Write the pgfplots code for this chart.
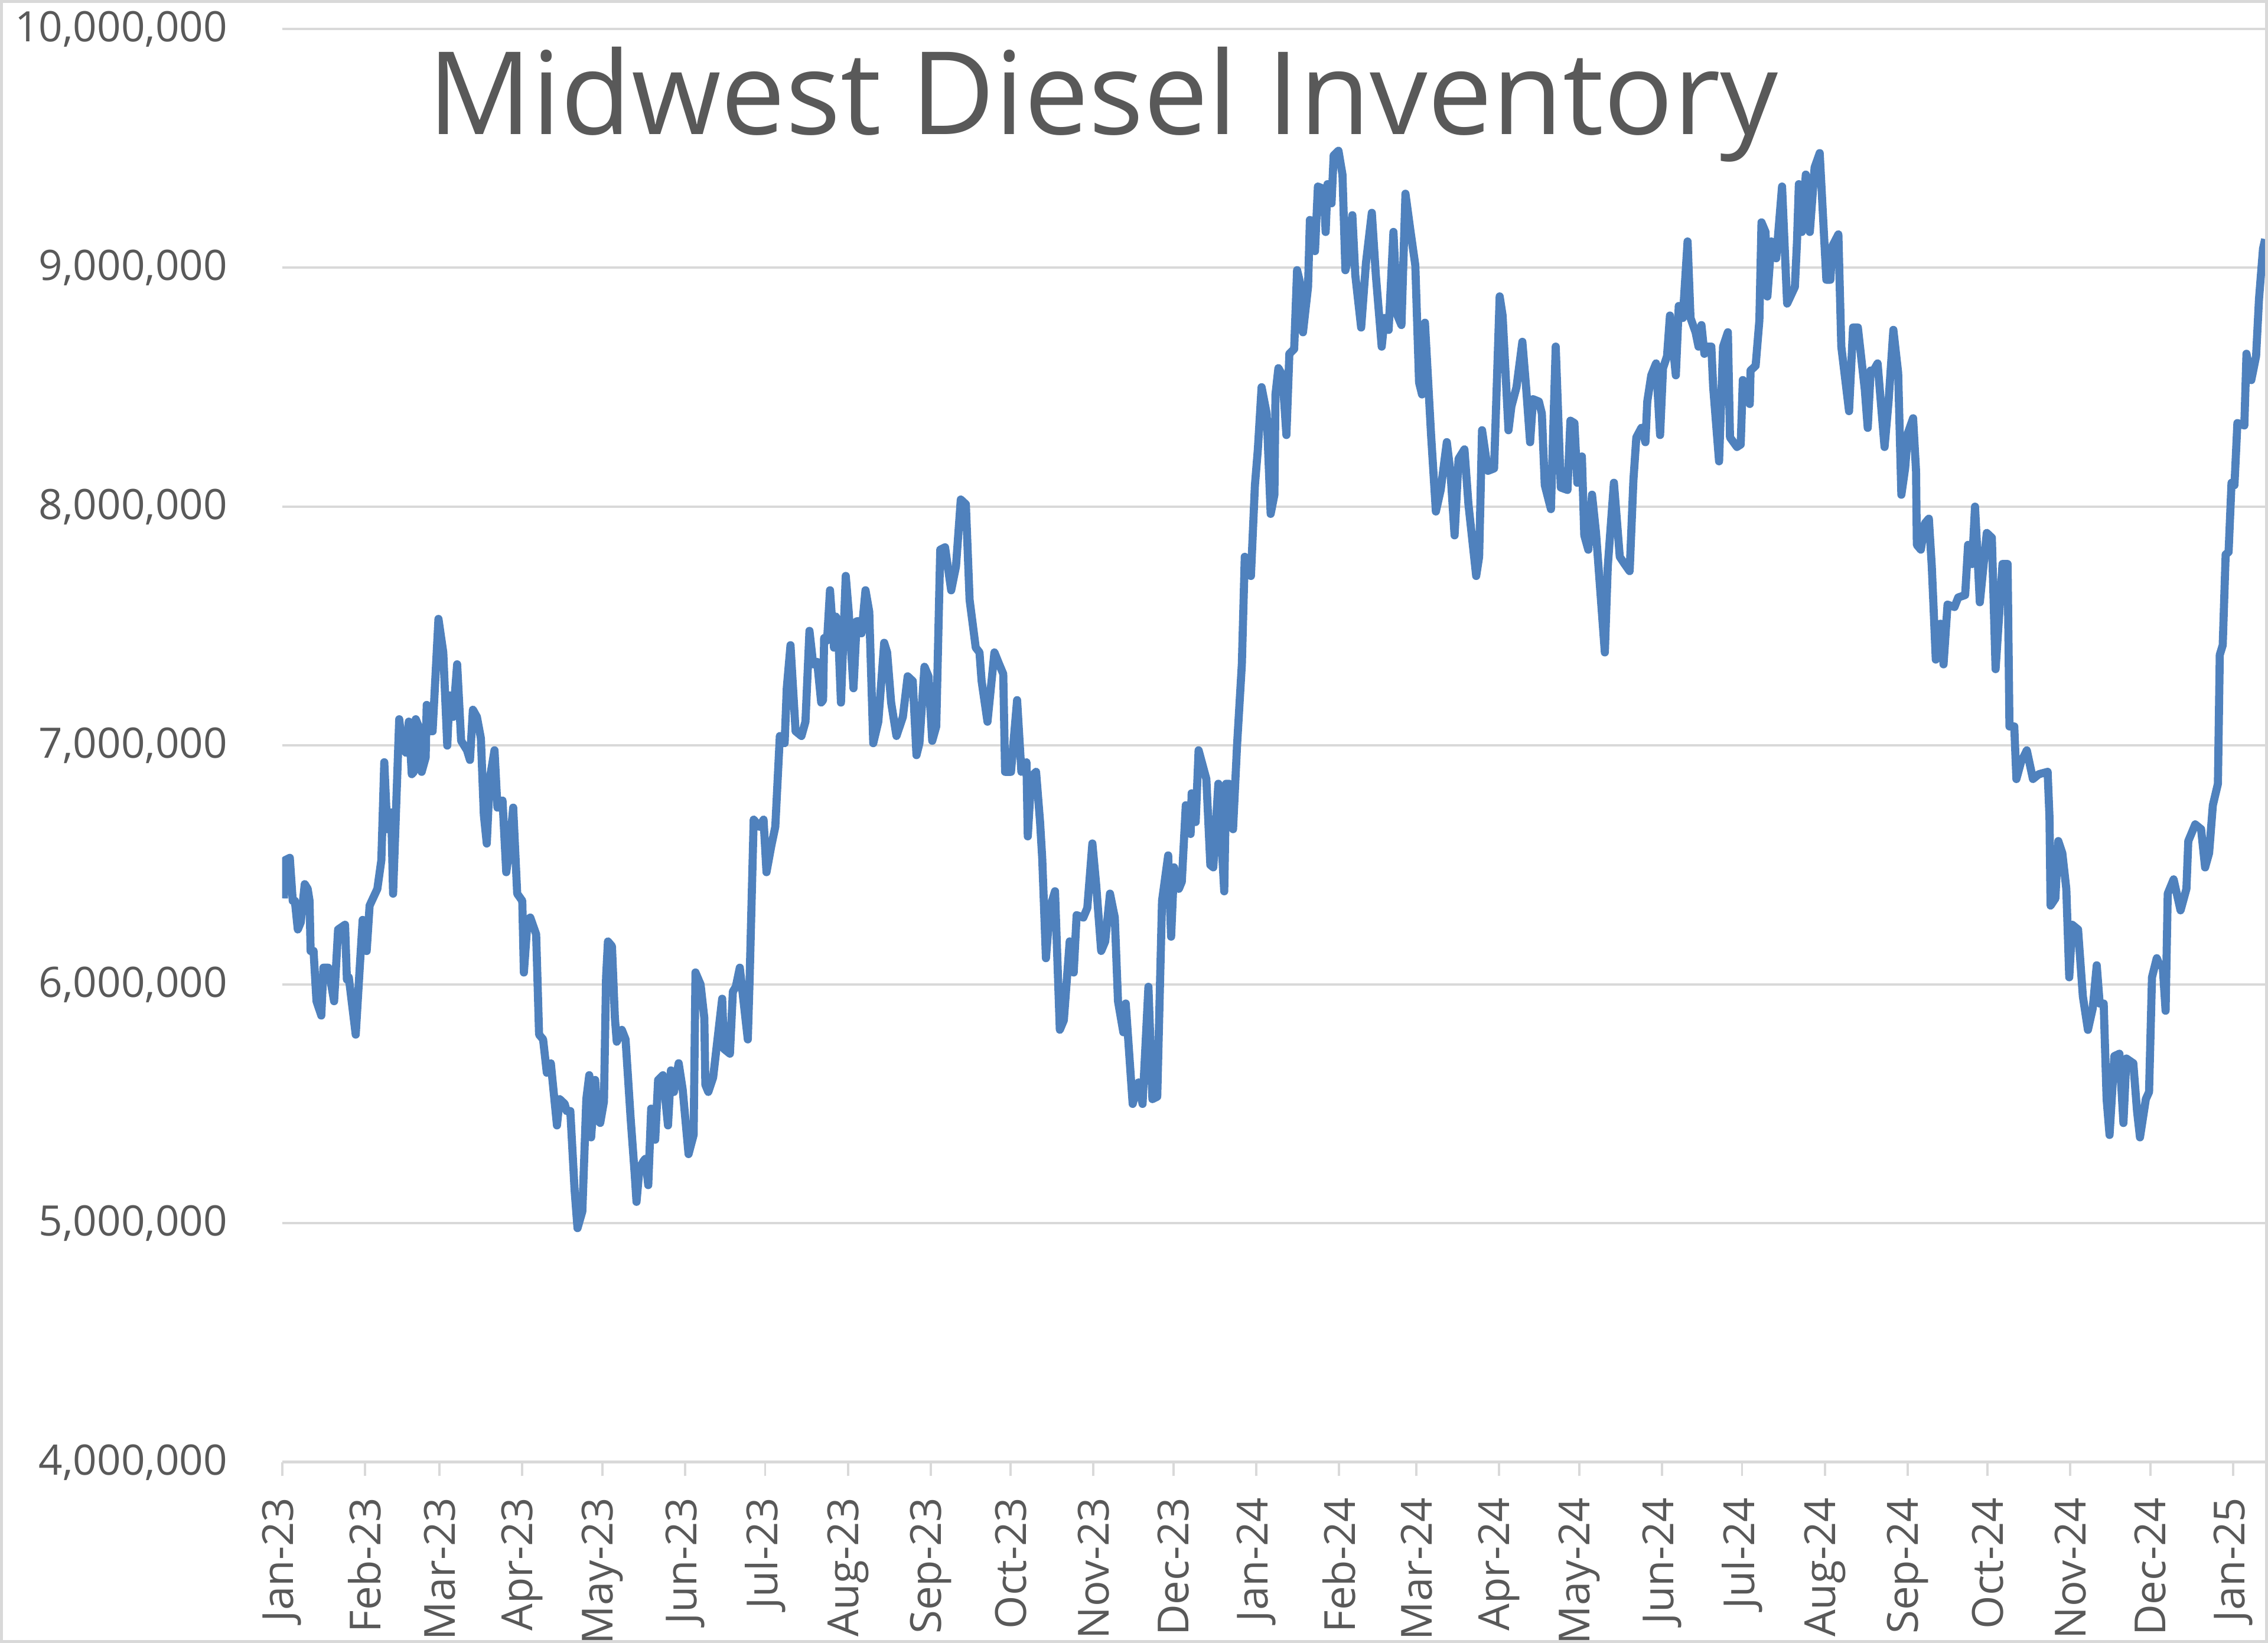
\documentclass[border=0pt]{standalone}
\usepackage{fontspec}
\setmainfont{Open Sans}[Numbers={Lining,Monospaced}]
\usepackage{pgfplots}
\pgfplotsset{compat=1.18}
\definecolor{linec}{RGB}{79,129,189}
\definecolor{txt}{RGB}{89,89,89}
\definecolor{gridc}{RGB}{217,217,217}
\begin{document}
\begin{tikzpicture}
\begin{axis}[
  scale only axis, width=342.75pt, height=247.75pt,
  xmin=0, xmax=743, ymin=4, ymax=10,
  ytick={4,5,6,7,8,9,10},
  yticklabel={\pgfmathprintnumber[assume math mode=true,fixed,precision=0]{\tick},000,000},
  xtick={0,31,59,90,120,151,181,212,243,273,304,334,365,396,425,456,486,517,547,578,609,639,670,700,731},
  xticklabels={Jan-23,Feb-23,Mar-23,Apr-23,May-23,Jun-23,Jul-23,Aug-23,Sep-23,Oct-23,Nov-23,Dec-23,Jan-24,Feb-24,Mar-24,Apr-24,May-24,Jun-24,Jul-24,Aug-24,Sep-24,Oct-24,Nov-24,Dec-24,Jan-25},
  axis x line*=bottom, axis y line*=left,
  x axis line style={draw=gridc, line width=0.5pt, -},
  y axis line style={draw=none},
  ymajorgrids, grid style={draw=gridc, line width=0.4pt},
  xtick align=outside, major tick length=2.4pt,
  xtick style={draw=gridc, line width=0.4pt},
  ytick style={draw=none},
  tick label style={text=txt},
  xticklabel style={font=\fontsize{7.4}{8}\selectfont, yshift=-3.5pt, rotate=90, anchor=east, inner sep=0pt},
  yticklabel style={font=\fontsize{7.25}{8}\selectfont, anchor=east, inner sep=0pt, xshift=-9.25pt},
]
\node[anchor=base, font=\fontsize{19.9}{24}\selectfont, text=txt, inner sep=0pt] at (rel axis cs:0.414,1) [yshift=-18.25pt] {Midwest Diesel Inventory};
\addplot[color=linec, line width=1.4pt, line join=round, mark=none] coordinates {
(0.7,6.36)(1.1,6.52)(2.9,6.53)(4.0,6.35)(4.8,6.35)(5.9,6.23)(7.0,6.26)(8.5,6.42)(9.6,6.40)(10.3,6.35)
(10.7,6.14)(11.8,6.14)(12.9,5.93)(14.7,5.87)(15.5,6.07)(17.3,6.07)(19.5,5.93)(21.0,6.23)(23.6,6.25)(24.3,6.02)
(25.0,6.03)(27.6,5.79)(29.1,6.07)(30.2,6.27)(31.7,6.14)(32.8,6.33)(35.7,6.40)(37.2,6.52)(38.3,6.93)(39.4,6.65)
(40.9,6.72)(41.6,6.38)(43.9,7.11)(45.0,7.00)(46.4,6.97)(47.5,7.10)(48.6,6.88)(49.4,6.89)(50.1,7.11)(51.2,7.08)
(52.3,6.89)(53.8,6.95)(54.2,7.17)(55.6,7.06)(56.4,7.06)(58.6,7.53)(60.4,7.39)(61.9,7.00)(62.7,7.21)(64.1,7.12)
(65.6,7.34)(67.1,7.02)(69.3,6.98)(70.4,6.94)(71.5,7.15)(73.0,7.12)(74.5,7.03)(75.6,6.71)(76.7,6.59)(77.8,6.86)
(79.6,6.98)(80.7,6.74)(82.6,6.77)(84.0,6.47)(85.1,6.56)(86.6,6.74)(88.1,6.38)(90.0,6.35)(90.6,6.05)(92.0,6.27)
(93.0,6.28)(95.2,6.21)(96.3,5.79)(97.8,5.77)(99.2,5.63)(100.7,5.67)(103.0,5.41)(104.0,5.52)(105.9,5.50)(106.6,5.47)
(108.0,5.47)(109.6,5.14)(110.7,4.98)(112.5,5.05)(114.0,5.52)(115.1,5.62)(115.8,5.36)(117.3,5.60)(118.4,5.43)(119.2,5.42)
(120.6,5.51)(121.4,6.03)(122.1,6.18)(123.6,6.16)(124.7,5.86)(125.4,5.76)(127.3,5.81)(128.7,5.77)(130.6,5.44)(132.1,5.21)
(132.8,5.09)(133.9,5.23)(135.4,5.26)(136.1,5.27)(137.2,5.16)(138.3,5.48)(139.8,5.35)(140.9,5.60)(142.7,5.62)(144.6,5.41)
(145.7,5.64)(146.8,5.55)(148.6,5.67)(150.1,5.56)(152.3,5.29)(154.2,5.37)(154.9,6.05)(156.8,6.00)(158.2,5.86)(158.6,5.58)
(159.7,5.55)(161.5,5.61)(164.9,5.94)(165.6,5.73)(167.8,5.71)(168.9,5.97)(170.0,5.99)(171.5,6.07)(173.0,5.92)(174.5,5.77)
(175.2,6.03)(176.7,6.69)(178.9,6.66)(180.4,6.69)(181.5,6.47)(183.3,6.58)(184.8,6.66)(186.5,7.04)(188.3,7.01)(189.1,7.24)
(190.5,7.42)(192.4,7.06)(194.6,7.04)(196.1,7.10)(197.6,7.48)(199.0,7.34)(200.5,7.35)(202.0,7.18)(202.7,7.19)(203.1,7.45)
(204.2,7.44)(205.3,7.65)(206.8,7.41)(207.5,7.54)(208.2,7.52)(209.4,7.18)(211.2,7.71)(212.3,7.56)(214.1,7.24)(215.3,7.52)
(216.4,7.52)(217.1,7.47)(218.6,7.65)(220.0,7.56)(221.5,7.01)(223.4,7.10)(225.6,7.43)(226.7,7.39)(228.2,7.18)(230.2,7.04)
(232.6,7.12)(234.4,7.29)(236.3,7.27)(237.7,6.96)(238.8,7.01)(240.7,7.33)(242.2,7.29)(243.6,7.02)(245.1,7.08)(246.6,7.82)
(248.4,7.83)(250.7,7.65)(252.5,7.75)(254.3,8.03)(256.2,8.01)(257.6,7.61)(259.9,7.41)(261.3,7.39)(262.1,7.27)(264.3,7.10)
(266.9,7.39)(268.7,7.34)(270.2,7.30)(270.9,6.89)(273.1,6.89)(275.4,7.19)(277.0,6.89)(278.9,6.93)(279.4,6.62)(280.7,6.87)
(282.5,6.89)(284.0,6.68)(284.8,6.53)(286.2,6.11)(287.7,6.32)(289.6,6.39)(291.4,5.81)(292.9,5.85)(295.1,6.18)(296.6,6.05)
(297.7,6.29)(300.2,6.28)(301.7,6.32)(303.6,6.59)(305.0,6.42)(306.9,6.14)(308.4,6.18)(310.2,6.38)(312.0,6.28)(313.2,5.93)
(315.2,5.80)(316.1,5.92)(318.7,5.50)(320.9,5.59)(322.4,5.50)(324.6,5.99)(326.1,5.52)(327.9,5.53)(329.7,6.35)(332.0,6.54)
(333.1,6.20)(334.2,6.49)(336.0,6.40)(337.1,6.43)(338.6,6.75)(340.4,6.63)(340.8,6.80)(342.3,6.68)(343.4,6.98)(346.3,6.86)
(347.8,6.50)(348.9,6.49)(350.8,6.84)(353.0,6.39)(353.7,6.84)(354.8,6.84)(356.3,6.65)(357.8,7.00)(359.6,7.34)(360.7,7.79)
(363.0,7.71)(364.5,8.09)(365.6,8.24)(367.0,8.50)(368.9,8.39)(370.4,7.97)(371.8,8.05)(372.2,8.47)(373.3,8.58)(374.8,8.55)
(376.3,8.30)(377.4,8.64)(379.2,8.66)(380.3,8.99)(381.8,8.92)(382.5,8.73)(384.4,8.92)(385.1,9.20)(387.0,9.07)(388.1,9.34)
(390.3,9.33)(391.0,9.15)(391.7,9.35)(393.2,9.27)(394.0,9.47)(395.8,9.49)(397.3,9.39)(398.4,8.99)(399.5,9.04)(401.0,9.22)
(402.1,8.97)(404.3,8.75)(406.1,9.02)(408.3,9.23)(409.8,8.97)(412.0,8.67)(413.1,8.79)(414.6,8.74)(416.4,9.15)(417.9,8.80)
(419.4,8.76)(420.9,9.31)(422.7,9.16)(424.6,9.01)(426.0,8.52)(427.1,8.47)(428.2,8.77)(430.5,8.30)(432.3,7.98)(434.1,8.07)
(436.4,8.27)(437.8,8.14)(439.3,7.88)(440.8,8.20)(443.0,8.24)(444.5,8.01)(447.4,7.71)(448.5,7.79)(449.6,8.32)(451.8,8.15)
(454.1,8.16)(456.2,8.88)(457.3,8.80)(459.5,8.32)(460.6,8.42)(462.5,8.50)(464.7,8.69)(466.1,8.50)(467.6,8.27)(468.7,8.45)
(470.9,8.44)(472.0,8.39)(473.1,8.09)(475.4,7.99)(477.2,8.67)(479.1,8.08)(481.6,8.07)(482.7,8.36)(484.2,8.35)(485.3,8.10)
(487.0,8.21)(487.9,7.88)(489.4,7.82)(490.8,8.05)(492.3,7.89)(495.6,7.39)(496.7,7.75)(499.0,8.10)(501.2,7.79)(503.0,7.76)
(504.9,7.73)(506.3,8.11)(507.4,8.29)(509.3,8.33)(510.8,8.27)(511.5,8.44)(513.0,8.55)(514.8,8.60)(516.3,8.30)(517.4,8.58)
(518.9,8.63)(520.0,8.80)(522.2,8.55)(523.3,8.84)(524.8,8.79)(526.6,9.11)(527.7,8.79)(529.6,8.73)(530.7,8.67)(531.8,8.76)
(532.9,8.64)(533.6,8.67)(535.5,8.67)(536.2,8.50)(538.4,8.19)(539.9,8.67)(541.7,8.73)(542.5,8.29)(545.1,8.25)(546.5,8.26)
(547.3,8.53)(549.9,8.43)(550.2,8.57)(552.1,8.59)(553.5,8.78)(554.3,9.19)(555.8,9.15)(556.5,8.88)(558.0,9.11)(559.8,9.04)
(562.0,9.34)(563.9,8.85)(566.8,8.92)(567.6,9.11)(568.3,9.35)(569.4,9.15)(570.9,9.39)(572.4,9.15)(574.2,9.42)(576.1,9.48)
(578.6,8.95)(580.1,8.95)(580.8,9.09)(583.1,9.14)(584.2,8.67)(587.1,8.40)(588.6,8.75)(590.4,8.75)(593.0,8.49)(594.1,8.33)
(595.2,8.57)(596.3,8.57)(597.8,8.60)(600.4,8.25)(601.9,8.44)(603.7,8.74)(605.5,8.56)(606.7,8.05)(608.1,8.16)(609.2,8.31)
(611.1,8.37)(612.2,8.15)(612.5,7.84)(614.0,7.82)(615.5,7.93)(617.0,7.95)(618.1,7.75)(619.6,7.36)(621.4,7.51)(622.5,7.34)
(624.0,7.59)(626.6,7.58)(628.0,7.62)(630.6,7.63)(631.7,7.84)(633.2,7.76)(634.3,8.00)(636.1,7.60)(638.7,7.89)(640.6,7.87)
(642.0,7.32)(644.6,7.76)(646.5,7.76)(647.2,7.08)(649.0,7.08)(649.8,6.86)(651.5,6.93)(653.7,6.98)(656.0,6.86)(658.2,6.88)
(661.5,6.89)(662.2,6.70)(662.6,6.33)(664.4,6.36)(665.5,6.60)(667.0,6.55)(668.5,6.40)(669.6,6.03)(670.7,6.25)(672.9,6.23)
(674.7,5.95)(676.6,5.81)(678.4,5.90)(679.9,6.08)(681.0,5.92)(682.5,5.92)(683.6,5.52)(684.7,5.37)(686.5,5.70)(688.4,5.71)
(689.9,5.42)(691.0,5.69)(693.6,5.67)(695.0,5.47)(696.1,5.36)(698.3,5.52)(699.5,5.55)(700.6,6.03)(702.4,6.11)(703.5,6.08)
(704.6,6.08)(705.7,5.89)(706.5,6.38)(708.7,6.44)(711.3,6.31)(713.5,6.40)(714.2,6.60)(716.8,6.67)(719.0,6.65)(720.5,6.49)
(722.0,6.55)(723.4,6.75)(725.3,6.84)(726.0,7.38)(727.1,7.42)(728.2,7.80)(729.3,7.81)(730.4,8.10)(731.5,8.09)(732.6,8.35)
(735.2,8.34)(736.0,8.64)(737.8,8.53)(739.6,8.63)(740.7,8.87)(742.2,9.08)(743.0,9.12)
};
\end{axis}
\pgfresetboundingbox
\path[use as bounding box] ([shift={(-48.75pt,-31.25pt)}]current axis.south west) rectangle ([shift={(0.5pt,5pt)}]current axis.north east);
\draw[gridc, line width=0.5pt] ([shift={(-48.5pt,-31pt)}]current axis.south west) rectangle ([shift={(0.25pt,4.75pt)}]current axis.north east);
\end{tikzpicture}
\end{document}
